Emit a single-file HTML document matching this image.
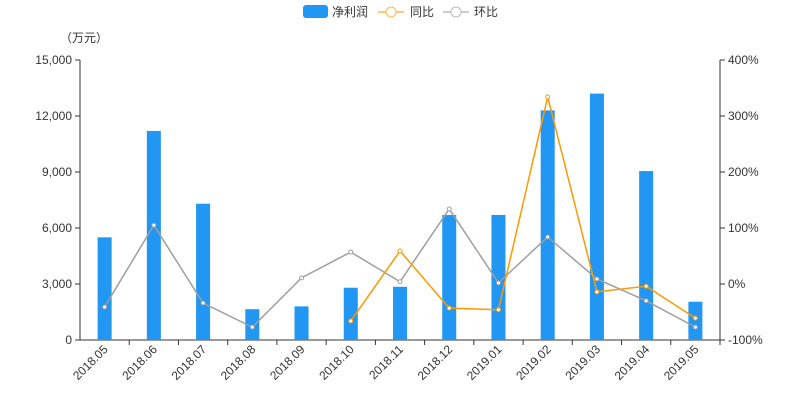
<!DOCTYPE html>
<html><head><meta charset="utf-8"><style>
body{margin:0;background:#fff;}
svg text{font-family:"Liberation Sans","Noto Sans CJK SC",sans-serif;}
</style></head><body>
<svg id="chart" width="800" height="400" xmlns="http://www.w3.org/2000/svg">
<g>
 <g><rect x="303" y="5" width="25" height="13" rx="3" fill="#2196f3"/><text x="332" y="16" font-size="12" fill="#333">净利润</text></g>
 <g><line x1="378" y1="12" x2="404" y2="12" stroke="#ffb74d" stroke-width="1.5"/><circle cx="391" cy="12" r="5" fill="#fff" stroke="#ffb74d"/><text x="410" y="16" font-size="12" fill="#333">同比</text></g>
 <g><line x1="443" y1="12" x2="469" y2="12" stroke="#bbb" stroke-width="1.5"/><circle cx="456" cy="12" r="5" fill="#fff" stroke="#bbb"/><text x="474" y="16" font-size="12" fill="#333">环比</text></g>
</g>
<text x="60" y="42" font-size="12" fill="#333">（万元）</text>
<g id="axes"></g><g id="bars"></g><g id="lines"></g>
</svg>
<script>
const categories=["2018.05","2018.06","2018.07","2018.08","2018.09","2018.10","2018.11","2018.12","2019.01","2019.02","2019.03","2019.04","2019.05"];
const netProfit=[5500,11200,7300,1650,1800,2800,2850,6700,6700,12300,13200,9050,2050];
const yoy=[null,null,null,null,null,-66,59,-43,-46,334,-14,-4,-61];
const mom=[-41,105,-34,-77,11,57,4,134,2,84,9,-30,-77];
const leftTicks=[0,3000,6000,9000,12000,15000];
const rightTicks=[-100,0,100,200,300,400];
const NS="http://www.w3.org/2000/svg";
const X0=80,X1=720,Y0=340,Y1=60;
const bw=(X1-X0)/categories.length;
const xc=i=>X0+bw*(i+0.5);
const yL=v=>Y0-(v/15000)*(Y0-Y1);
const yR=v=>Y0-((v+100)/500)*(Y0-Y1);
function mk(t,a,p){const e=document.createElementNS(NS,t);for(const k in a)e.setAttribute(k,a[k]);p.appendChild(e);return e;}
const ax=document.getElementById('axes'),bars=document.getElementById('bars'),lines=document.getElementById('lines');
let e;
e=mk('line',{x1:X0,y1:Y1,x2:X0,y2:Y0,stroke:'#333'},ax);


e=mk('line',{x1:X1,y1:Y1,x2:X1,y2:Y0,stroke:'#333'},ax);


e=mk('line',{x1:X0,y1:Y0,x2:X1,y2:Y0,stroke:'#333'},ax);


leftTicks.forEach(v=>{const y=yL(v);mk('line',{x1:X0-5,y1:y,x2:X0,y2:y,stroke:'#333'},ax);
 e=mk('text',{x:X0-8,y:y+4,'text-anchor':'end','font-size':12,fill:'#333'},ax);e.textContent=v.toLocaleString('en-US');
 
 });
rightTicks.forEach(v=>{const y=yR(v);mk('line',{x1:X1,y1:y,x2:X1+5,y2:y,stroke:'#333'},ax);
 e=mk('text',{x:X1+8,y:y+4,'font-size':12,fill:'#333'},ax);e.textContent=v+'%';
 
 });
categories.forEach((c,i)=>{const x=xc(i);mk('line',{x1:X0+bw*(i+1),y1:Y0,x2:X0+bw*(i+1),y2:Y0+5,stroke:'#333'},ax);
 e=mk('text',{x:x+4,y:Y0+10,'text-anchor':'end','font-size':12,fill:'#333',transform:`rotate(-45 ${x+4} ${Y0+10})`},ax);e.textContent=c;
 
 
 e=mk('rect',{x:x-7,y:yL(netProfit[i]),width:14,height:Y0-yL(netProfit[i]),fill:'#2196f3'},bars);
 
 });
function series(arr,col,name){const pts=[];arr.forEach((v,i)=>{if(v!==null)pts.push([xc(i),yR(v)]);});
 e=mk('polyline',{points:pts.map(p=>p.join(',')).join(' '),fill:'none',stroke:col,'stroke-width':1.5},lines);
 
 
 pts.forEach(p=>{e=mk('circle',{cx:p[0],cy:p[1],r:2,fill:'#fff',stroke:col},lines);
 
 });}
series(mom,'#9e9e9e','mom');
series(yoy,'#ff9800','yoy');
</script>
</body></html>
